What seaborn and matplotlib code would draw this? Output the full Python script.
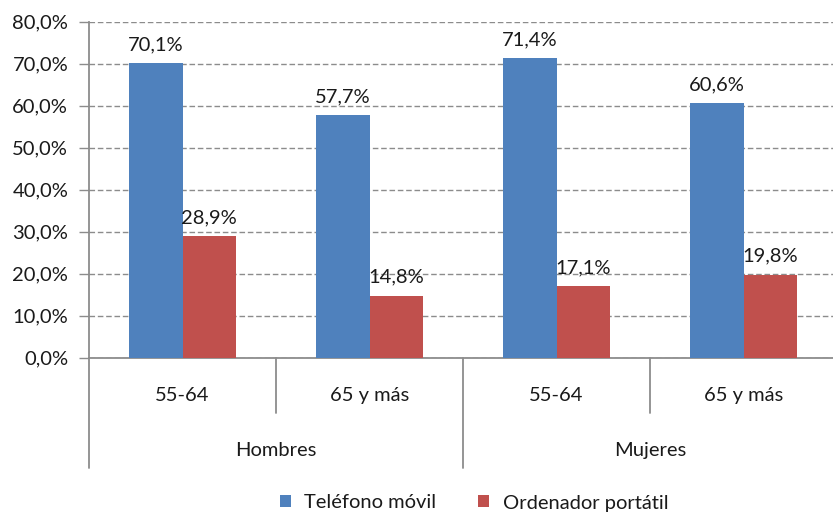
import matplotlib
matplotlib.use("Agg")
import matplotlib.pyplot as plt
import matplotlib.transforms as mtransforms
import pandas as pd
import seaborn as sns

# Data
sexos = ["Hombres", "Hombres", "Mujeres", "Mujeres"]
edades = ["55-64", "65 y más", "55-64", "65 y más"]
telefono_movil = [70.1, 57.7, 71.4, 60.6]
ordenador_portatil = [28.9, 14.8, 17.1, 19.8]
series = ["Teléfono móvil", "Ordenador portátil"]
colores = ["#4F81BD", "#C0504D"]
y_ticks = [0, 10, 20, 30, 40, 50, 60, 70, 80]

grupos = [f"{s} {e}" for s, e in zip(sexos, edades)]
df = pd.DataFrame({
    "grupo": grupos * 2,
    "serie": [series[0]] * 4 + [series[1]] * 4,
    "valor": telefono_movil + ordenador_portatil,
})

FS = 14.5
TXT = "#1a1a1a"

sns.set_theme(style="white")
plt.rcParams["font.family"] = ["Lato", "DejaVu Sans"]

fig = plt.figure(figsize=(8.33, 5.19), dpi=100)
ax = fig.add_axes([89 / 833, 1 - 357.7 / 519, 748 / 833, 336 / 519])

sns.barplot(data=df, x="grupo", y="valor", hue="serie", order=grupos,
            hue_order=series, palette=colores, width=0.571, saturation=1,
            edgecolor="none", linewidth=0, ax=ax, legend=True, zorder=3)

ax.set_xlim(-0.5, 3.5)
ax.set_ylim(0, 80)
ax.set_yticks(y_ticks)
ax.set_yticklabels([f"{v:.1f}%".replace(".", ",") for v in y_ticks],
                   fontsize=FS, color=TXT)
ax.set_xticks([])
ax.set_xlabel("")
ax.set_ylabel("")
ax.tick_params(axis="y", which="both", left=True, length=7, width=1,
               color="#8c8c8c", pad=8)

ax.yaxis.grid(True, linestyle=(0, (4, 2)), color="#8c8c8c", linewidth=1)
ax.set_axisbelow(True)
for side in ["top", "right"]:
    ax.spines[side].set_visible(False)
for side in ["left", "bottom"]:
    ax.spines[side].set_color("#8c8c8c")
    ax.spines[side].set_linewidth(1.3)

# Value labels above each bar
for cont, vals in zip(ax.containers, [telefono_movil, ordenador_portatil]):
    for bar, v in zip(cont, vals):
        ax.annotate(f"{v:.1f}%".replace(".", ","),
                    (bar.get_x() + bar.get_width() / 2, v),
                    xytext=(0, 7), textcoords="offset points",
                    ha="center", va="bottom", fontsize=FS, color=TXT)

# Two-level category axis below the plot
trans = mtransforms.blended_transform_factory(ax.transData, ax.transAxes)
px = 1 / 336  # one pixel in axes-height units
for x, ybot in [(-0.5, -110 * px), (0.5, -55 * px), (1.5, -110 * px),
                (2.5, -55 * px), (3.5, -110 * px)]:
    ax.plot([x, x], [0, ybot], transform=trans, color="#8c8c8c",
            linewidth=1.3, clip_on=False)
for i, e in enumerate(edades):
    ax.text(i, -38 * px, e, transform=trans, ha="center", va="center",
            fontsize=FS, color=TXT)
for xc, s in [(0.5, "Hombres"), (2.5, "Mujeres")]:
    ax.text(xc, -93 * px, s, transform=trans, ha="center", va="center",
            fontsize=FS, color=TXT)

# Legend centred under the chart
handles, labels = ax.get_legend_handles_labels()
ax.legend_.remove()
fig.legend(handles, labels, loc="center", bbox_to_anchor=(474 / 833, 1 - 503 / 519),
           ncol=2, frameon=False, fontsize=FS, handlelength=0.55,
           handleheight=0.55, handletextpad=0.65, columnspacing=2.1,
           labelcolor=TXT)

fig.savefig("out.png", dpi=100)
